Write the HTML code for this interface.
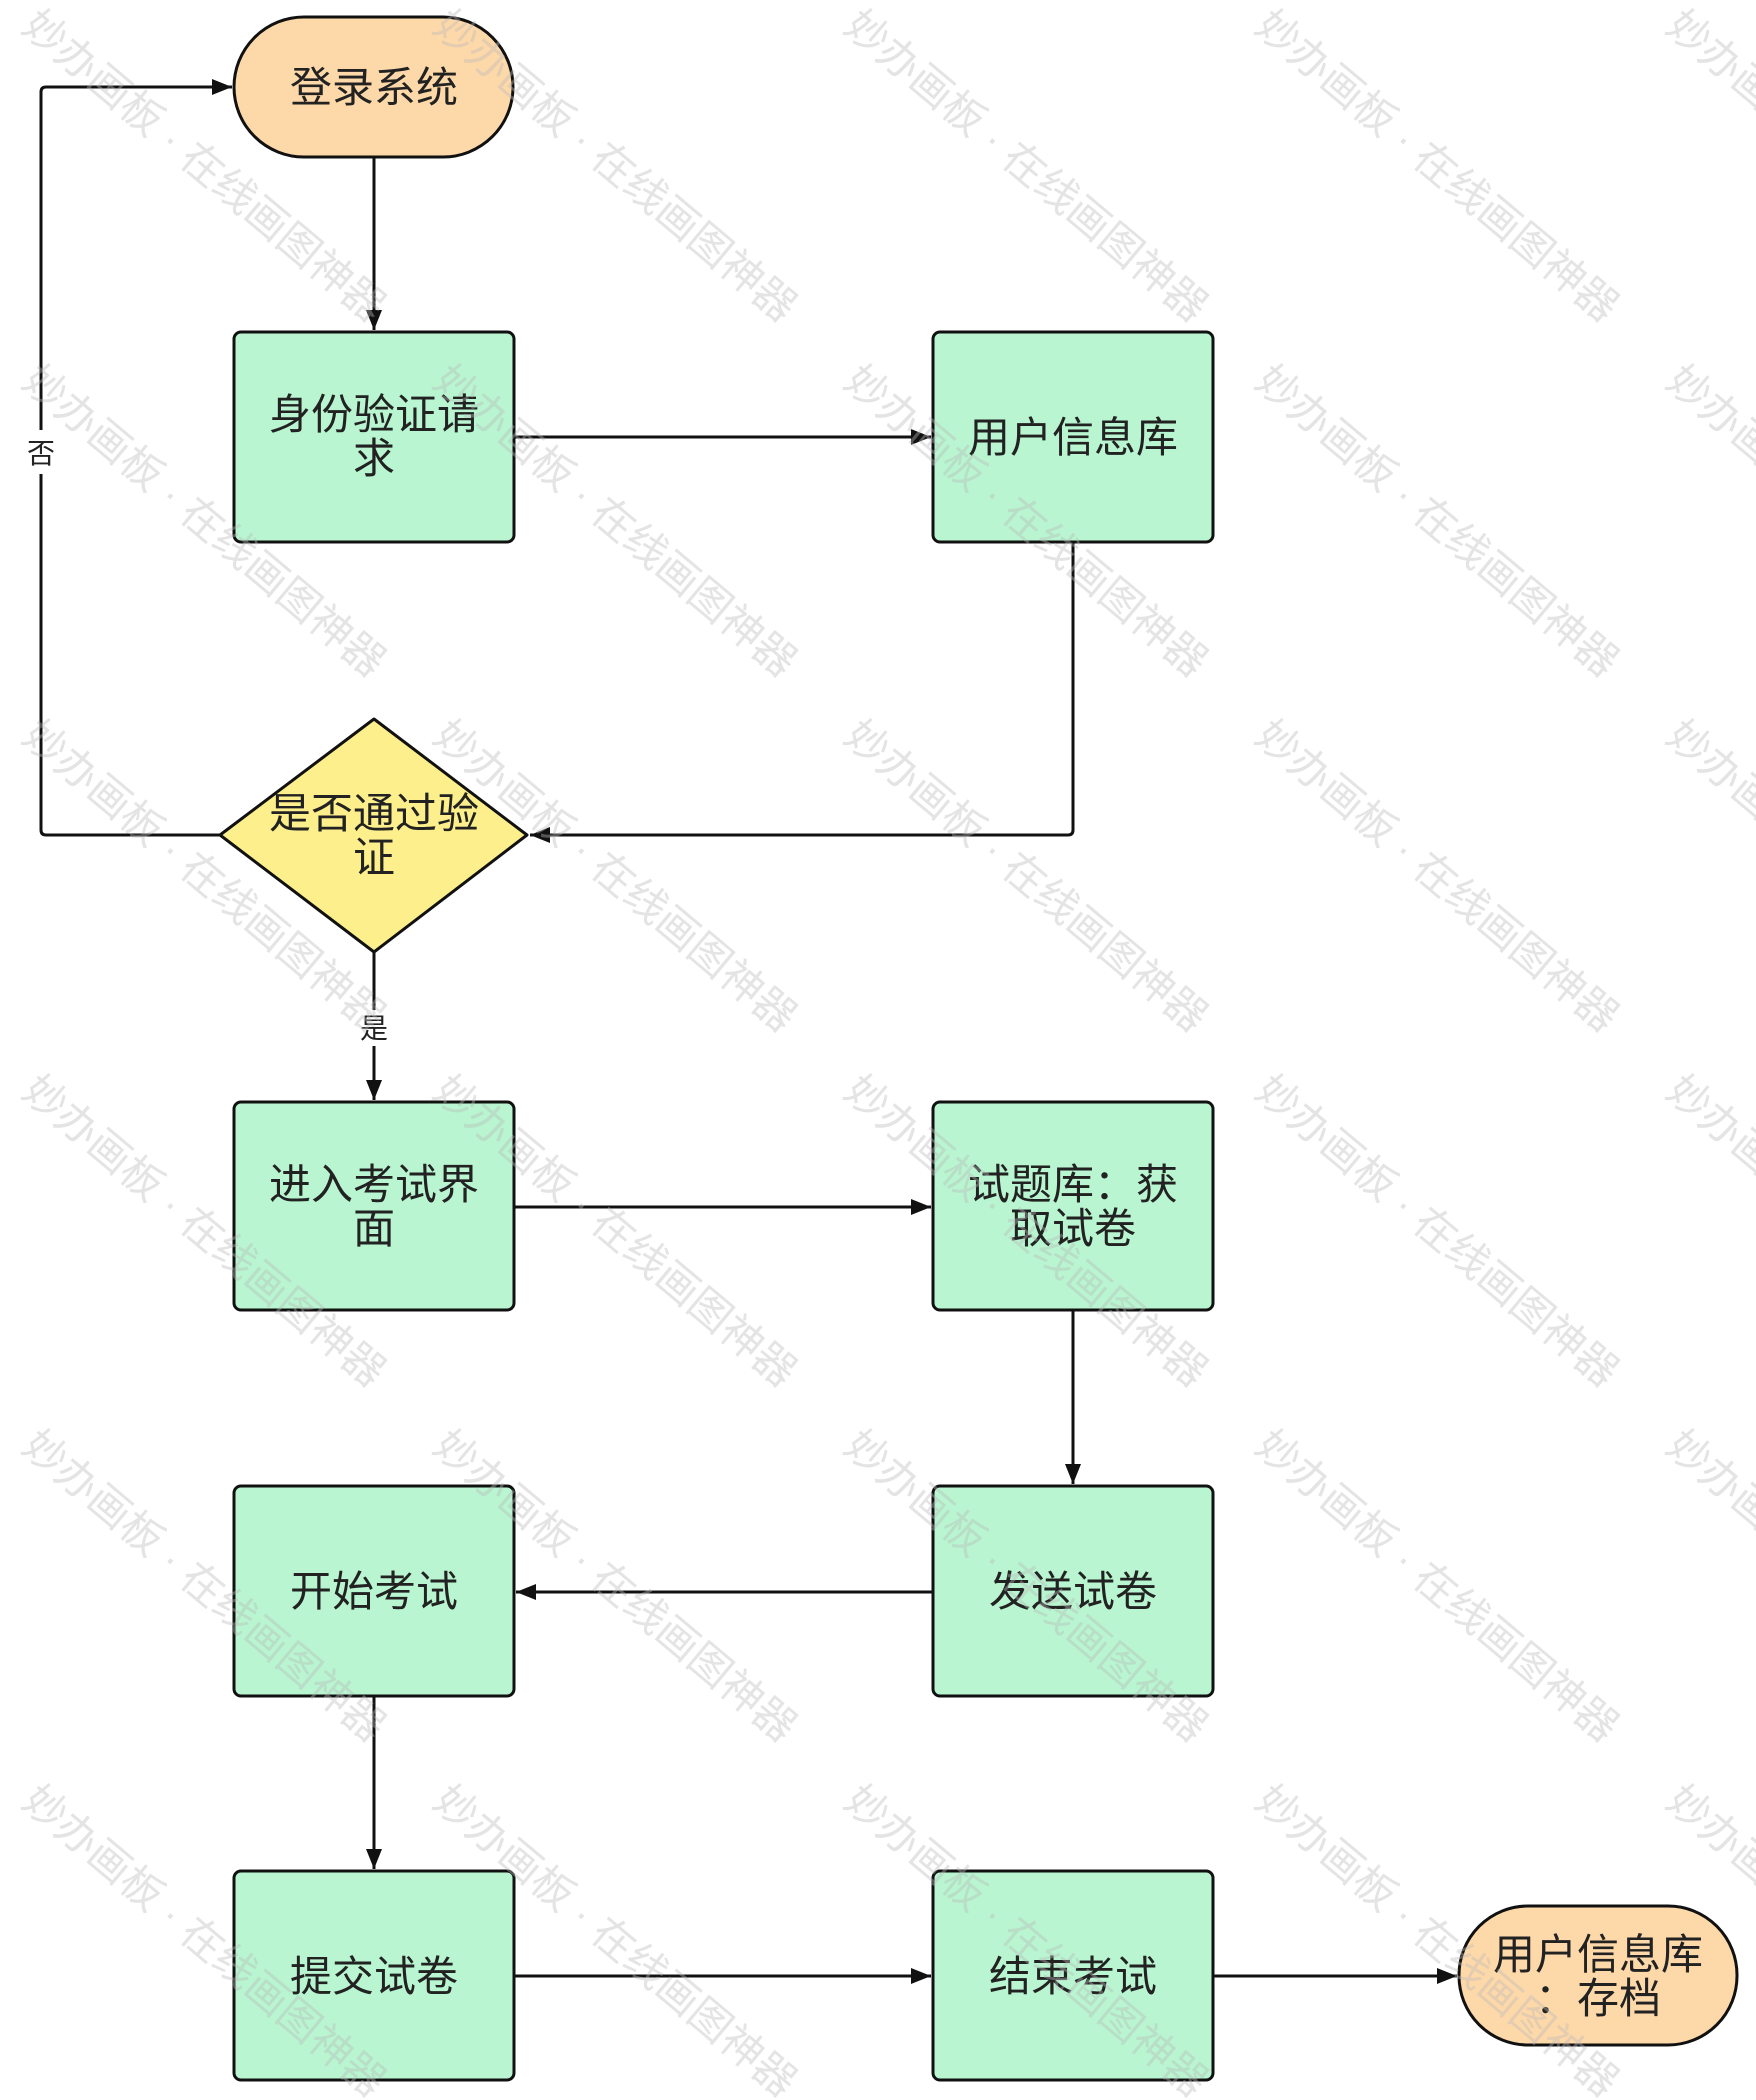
<!DOCTYPE html>
<html><head><meta charset="utf-8"><style>
html,body{margin:0;padding:0;background:#fff;}
svg{display:block;}
text{font-family:"Liberation Sans","Noto Sans CJK SC",sans-serif;fill:#222;}
.w{fill:#bbbbbb;font-size:42px;}
</style></head><body>
<svg width="1756" height="2100" viewBox="0 0 1756 2100" xmlns="http://www.w3.org/2000/svg">
<defs>
<marker id="m" markerWidth="20" markerHeight="16" refX="20" refY="8" orient="auto" markerUnits="userSpaceOnUse">
<path d="M0,0 L20,8 L0,16 z" fill="#111"/></marker>
<g id="wm"><text class="w" x="0" y="0" transform="rotate(40)">妙办画板 · 在线画图神器</text></g>
</defs>
<g stroke="#111" stroke-width="3" fill="none">
<path d="M374 157 V330" marker-end="url(#m)"/>
<path d="M514 437 H931" marker-end="url(#m)"/>
<path d="M1073 542 V830 Q1073 835 1068 835 H530" marker-end="url(#m)"/>
<path d="M220 835 H46 Q41 835 41 830 V92 Q41 87 46 87 H232" marker-end="url(#m)"/>
<path d="M374 952 V1100" marker-end="url(#m)"/>
<path d="M514 1207 H931" marker-end="url(#m)"/>
<path d="M1073 1310 V1484" marker-end="url(#m)"/>
<path d="M933 1592 H516" marker-end="url(#m)"/>
<path d="M374 1696 V1869" marker-end="url(#m)"/>
<path d="M514 1976 H931" marker-end="url(#m)"/>
<path d="M1213 1976 H1457" marker-end="url(#m)"/>
</g>
<rect x="28" y="430" width="26" height="44" fill="#fff"/>
<rect x="356" y="1010" width="36" height="36" fill="#fff"/>
<text x="41" y="463" font-size="28" text-anchor="middle">否</text>
<text x="374" y="1038" font-size="28" text-anchor="middle">是</text>
<g stroke="#111" stroke-width="3">
<rect x="234" y="17" width="279" height="140" rx="70" fill="#fdd8a9"/>
<rect x="234" y="332" width="280" height="210" rx="7" fill="#b8f5d0"/>
<rect x="933" y="332" width="280" height="210" rx="7" fill="#b8f5d0"/>
<path d="M374 719 L527 835 L374 952 L220 835 Z" fill="#fdf08c" stroke-linejoin="round"/>
<rect x="234" y="1102" width="280" height="208" rx="7" fill="#b8f5d0"/>
<rect x="933" y="1102" width="280" height="208" rx="7" fill="#b8f5d0"/>
<rect x="234" y="1486" width="280" height="210" rx="7" fill="#b8f5d0"/>
<rect x="933" y="1486" width="280" height="210" rx="7" fill="#b8f5d0"/>
<rect x="234" y="1871" width="280" height="209" rx="7" fill="#b8f5d0"/>
<rect x="933" y="1871" width="280" height="209" rx="7" fill="#b8f5d0"/>
<rect x="1459" y="1906" width="278" height="139" rx="69" fill="#fdd8a9"/>
</g>
<g font-size="42" text-anchor="middle">
<text x="374" y="102">登录系统</text>
<text x="374" y="429">身份验证请</text>
<text x="374" y="473">求</text>
<text x="1073" y="452">用户信息库</text>
<text x="374" y="828">是否通过验</text>
<text x="374" y="872">证</text>
<text x="374" y="1199">进入考试界</text>
<text x="374" y="1243">面</text>
<text x="1073" y="1199">试题库：获</text>
<text x="1073" y="1243">取试卷</text>
<text x="374" y="1606">开始考试</text>
<text x="1073" y="1606">发送试卷</text>
<text x="374" y="1991">提交试卷</text>
<text x="1073" y="1991">结束考试</text>
<text x="1598" y="1969">用户信息库</text>
<text x="1598" y="2013">：存档</text>
</g>
<g opacity="0.4">
<use href="#wm" x="20" y="30"/><use href="#wm" x="431" y="30"/><use href="#wm" x="842" y="30"/><use href="#wm" x="1253" y="30"/><use href="#wm" x="1664" y="30"/>
<use href="#wm" x="20" y="385"/><use href="#wm" x="431" y="385"/><use href="#wm" x="842" y="385"/><use href="#wm" x="1253" y="385"/><use href="#wm" x="1664" y="385"/>
<use href="#wm" x="20" y="740"/><use href="#wm" x="431" y="740"/><use href="#wm" x="842" y="740"/><use href="#wm" x="1253" y="740"/><use href="#wm" x="1664" y="740"/>
<use href="#wm" x="20" y="1095"/><use href="#wm" x="431" y="1095"/><use href="#wm" x="842" y="1095"/><use href="#wm" x="1253" y="1095"/><use href="#wm" x="1664" y="1095"/>
<use href="#wm" x="20" y="1450"/><use href="#wm" x="431" y="1450"/><use href="#wm" x="842" y="1450"/><use href="#wm" x="1253" y="1450"/><use href="#wm" x="1664" y="1450"/>
<use href="#wm" x="20" y="1805"/><use href="#wm" x="431" y="1805"/><use href="#wm" x="842" y="1805"/><use href="#wm" x="1253" y="1805"/><use href="#wm" x="1664" y="1805"/>
</g>
</svg>
</body></html>
